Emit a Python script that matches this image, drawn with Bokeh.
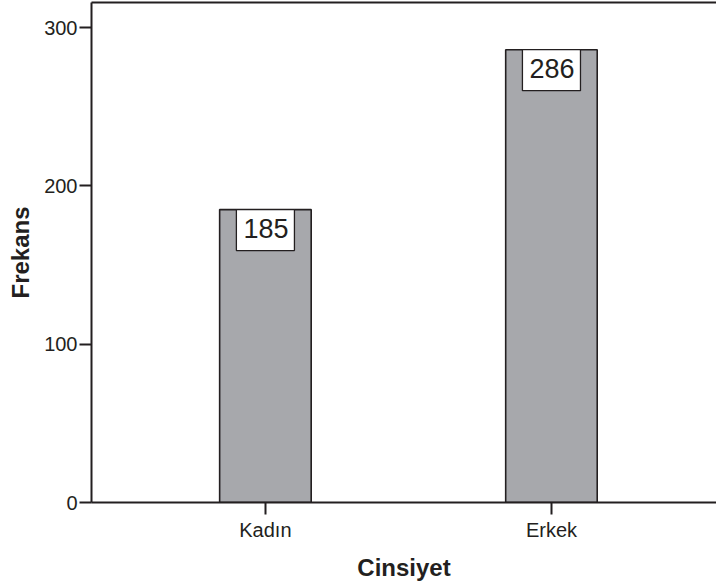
from bokeh.plotting import figure
from bokeh.models import ColumnDataSource, Range1d, FixedTicker, LinearAxis
from bokeh.core.properties import value
from bokeh.embed import file_html
from bokeh.resources import INLINE

categories = ["Kadın", "Erkek"]
counts = [185, 286]
y_ticks = [0, 100, 200, 300]

positions = list(range(1, len(categories) + 1))
src = ColumnDataSource(dict(x=positions, top=counts, label=[str(c) for c in counts]))

FONT = "Liberation Sans"
INK = "#231f20"

p = figure(width=716, height=585, output_backend="svg", toolbar_location=None,
           x_range=Range1d(0.392, 2.577), y_range=Range1d(0, 315.8),
           min_border_left=91, min_border_right=0, min_border_top=2, min_border_bottom=83)
p.outline_line_color = None
p.grid.visible = False
p.background_fill_color = "white"

p.vbar(x="x", top="top", bottom=0, width=0.32, source=src,
       fill_color="#a7a8ac", line_color=INK, line_width=1.6)

p.text(x="x", y="top", text="label", source=src, anchor="top_center",
       text_align="center", text_baseline="top",
       text_font=value(FONT), text_font_size="27px", text_color=INK,
       background_fill_color="white", border_line_color=INK, border_line_width=1.3,
       padding=(7, 6, 9, 13))

xa = p.xaxis[0]
xa.ticker = FixedTicker(ticks=positions)
xa.major_label_overrides = {pos: c for pos, c in zip(positions, categories)}
xa.axis_label = "Cinsiyet"
ya = p.yaxis[0]
ya.ticker = FixedTicker(ticks=y_ticks)
ya.axis_label = "Frekans"

for ax in (xa, ya):
    ax.axis_line_color = INK
    ax.axis_line_width = 2
    ax.major_tick_line_color = INK
    ax.major_tick_line_width = 2
    ax.major_tick_out = 12
    ax.major_tick_in = 0
    ax.minor_tick_line_color = None
    ax.major_label_text_font = FONT
    ax.major_label_text_font_size = "20px"
    ax.major_label_text_color = INK
    ax.axis_label_text_font = FONT
    ax.axis_label_text_font_size = "24px"
    ax.axis_label_text_font_style = "bold"
    ax.axis_label_text_color = INK
xa.major_label_standoff = 4
xa.axis_label_standoff = 10
ya.major_label_standoff = 2
ya.axis_label_standoff = 7

top_ax = LinearAxis(ticker=FixedTicker(ticks=[]), axis_line_color=INK, axis_line_width=2,
                    major_tick_line_color=None, minor_tick_line_color=None,
                    major_label_text_font_size="0px")
p.add_layout(top_ax, "above")

open("out.html", "w").write(file_html(p, INLINE))
